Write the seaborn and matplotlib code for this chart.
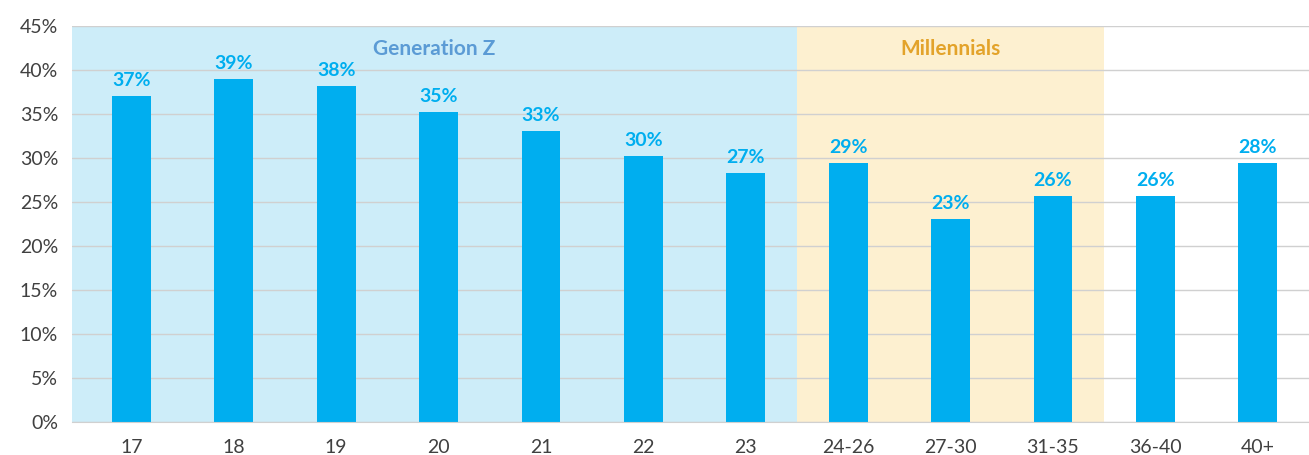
import matplotlib
matplotlib.use("Agg")
import matplotlib.pyplot as plt
import pandas as pd
import seaborn as sns

# Datos
edades = ["17", "18", "19", "20", "21", "22", "23", "24-26", "27-30", "31-35", "36-40", "40+"]
valores = [37.0, 39.0, 38.2, 35.2, 33.1, 30.2, 28.3, 29.4, 23.1, 25.7, 25.7, 29.4]
etiquetas = ["37%", "39%", "38%", "35%", "33%", "30%", "27%", "29%", "23%", "26%", "26%", "28%"]
generaciones = ["Generation Z", "Millennials"]
rangos_gen = [(None, 6.5), (6.5, 9.5)]

color_barra = "#00AEEF"
fondos = ["#CDEDF9", "#FDF0D0"]
colores_texto = ["#5B9BD5", "#E3A32A"]

sns.set_style("white")
plt.rcParams["font.family"] = ["Lato", "DejaVu Sans"]

df = pd.DataFrame({"edad": edades, "valor": valores})

fig = plt.figure(figsize=(13.09, 4.55), dpi=100)
ax = fig.add_axes([0.055, 0.0725, 0.945, 0.8705])

x_izq, x_der = -0.58, 11.5

# Bandas de generaciones
for i, (a, b) in enumerate(rangos_gen):
    a = x_izq if a is None else a
    ax.axvspan(a, b, color=fondos[i], zorder=0, lw=0)
    ax.text((a + b) / 2, 42.4, generaciones[i], ha="center", va="center",
            fontsize=15, fontweight="bold", color=colores_texto[i])

sns.barplot(data=df, x="edad", y="valor", color=color_barra, width=0.38,
            saturation=1, linewidth=0, edgecolor="none", ax=ax, zorder=2)

for i, (v, t) in enumerate(zip(valores, etiquetas)):
    ax.text(i, v + 0.8, t, ha="center", va="bottom", fontsize=14,
            fontweight="bold", color=color_barra, zorder=3)

ax.set_xlim(x_izq, x_der)
ax.set_ylim(0, 45)
ax.set_yticks(range(0, 50, 5))
ax.set_yticklabels([f"{t}%" for t in range(0, 50, 5)])
ax.yaxis.grid(True, color="#D0D0D0", lw=1)
ax.set_axisbelow(True)
for g in ax.get_ygridlines():
    g.set_zorder(1)
ax.set_xlabel("")
ax.set_ylabel("")
for s in ["left", "right", "top"]:
    ax.spines[s].set_visible(False)
ax.spines["bottom"].set_color("#D0D0D0")
ax.tick_params(axis="both", length=0, labelsize=14, colors="#404040")
ax.tick_params(axis="x", pad=12)
ax.tick_params(axis="y", pad=10)

fig.savefig("out.png", dpi=100)
